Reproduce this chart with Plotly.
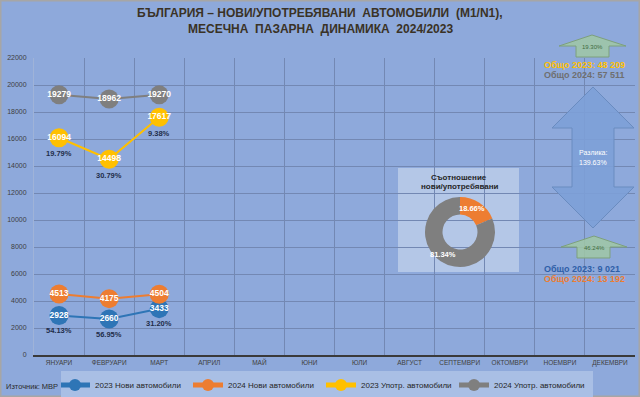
import plotly.graph_objects as go

W, H = 640, 397

months = ["ЯНУАРИ", "ФЕВРУАРИ", "МАРТ", "АПРИЛ", "МАЙ", "ЮНИ", "ЮЛИ", "АВГУСТ",
          "СЕПТЕМВРИ", "ОКТОМВРИ", "НОЕМВРИ", "ДЕКЕМВРИ"]
months_data = months[:3]
new_2023 = [2928, 2660, 3433]
new_2024 = [4513, 4175, 4504]
used_2023 = [16094, 14498, 17617]
used_2024 = [19279, 18962, 19270]
new_growth = ["54.13%", "56.95%", "31.20%"]
used_growth = ["19.79%", "30.79%", "9.38%"]
ratio_labels = ["Нови", "Употребявани"]
ratio_values = [13192, 57511]

BG = "#8EA9DB"
GRID = "#7388B3"


def px(x):
    return x / W


def py(y):
    return 1 - y / H


fig = go.Figure()

series = [
    ("2023 Нови автомобили", new_2023, "#2E75B6"),
    ("2024 Нови автомобили", new_2024, "#ED7D31"),
    ("2023 Употр. автомобили", used_2023, "#FFC000"),
    ("2024 Употр. автомобили", used_2024, "#7F7F7F"),
]
for name, vals, col in series:
    fig.add_trace(go.Scatter(
        x=months_data, y=vals, name=name, mode="lines+markers+text",
        line=dict(color=col, width=2),
        marker=dict(color=col, size=19),
        text=[str(v) for v in vals], textposition="middle center",
        textfont=dict(family="Liberation Sans", size=8.5, color="white", weight="bold"),
        cliponaxis=False,
    ))

annotations = []
for m, v, t in zip(months_data, new_2023, new_growth):
    annotations.append(dict(x=m, y=v, xref="x", yref="y", text=t, showarrow=False,
                            yshift=-15, font=dict(family="Liberation Sans", size=7.5, color="#1F2D4A", weight="bold")))
for m, v, t in zip(months_data, used_2023, used_growth):
    annotations.append(dict(x=m, y=v, xref="x", yref="y", text=t, showarrow=False,
                            yshift=-16, font=dict(family="Liberation Sans", size=7.5, color="#1F2D4A", weight="bold")))

# Donut
total = sum(ratio_values)
pct = [f"{100 * v / total:.2f}%" for v in ratio_values]
fig.add_trace(go.Pie(
    labels=ratio_labels, values=ratio_values, hole=0.5, sort=False, direction="clockwise",
    rotation=0, marker=dict(colors=["#ED7D31", "#7F7F7F"]),
    textinfo="none",
    domain=dict(x=[px(425), px(495)], y=[py(267), py(197)]),
    showlegend=False,
))


def note(x, y, text, font, xanchor="center"):
    return dict(x=px(x), y=py(y), xref="paper", yref="paper", showarrow=False,
                xanchor=xanchor, yanchor="middle", text=text, font=font)


pie_lbl_font = dict(family="Liberation Sans", size=7.5, color="white", weight="bold")
annotations += [
    note(472, 208, pct[0], pie_lbl_font),
    note(443, 254, pct[1], pie_lbl_font),
]

title_font = dict(family="Liberation Sans", size=12, color="#3A3226", weight="bold")
box_font = dict(family="Liberation Sans", size=8, color="#262626", weight="bold")
green_font = dict(family="Liberation Sans", size=6, color="#3F6B3F")
white_font = dict(family="Liberation Sans", size=7, color="white")
annotations += [
    note(320, 13, "БЪЛГАРИЯ – НОВИ/УПОТРЕБЯВАНИ  АВТОМОБИЛИ  (М1/N1),", title_font),
    note(320, 29, "МЕСЕЧНА  ПАЗАРНА  ДИНАМИКА  2024/2023", title_font),
    note(4, 386, "Източник: МВР", dict(family="Liberation Sans", size=7.5, color="#2B2B2B"), "left"),
    note(459, 177, "Съотношение", box_font),
    note(459, 186, "нови/употребявани", box_font),
    note(592, 47, "19.30%", green_font),
    note(594, 248, "46.24%", green_font),
    note(593, 152, "Разлика:", white_font),
    note(593, 162, "139.63%", white_font),
    note(542, 65, "Общо 2023: 48 209", dict(family="Liberation Sans", size=9, color="#FFC000", weight="bold"), "left"),
    note(542, 75, "Общо 2024: 57 511", dict(family="Liberation Sans", size=9, color="#6F6F6F", weight="bold"), "left"),
    note(542, 269, "Общо 2023: 9 021", dict(family="Liberation Sans", size=9, color="#2E5FA8", weight="bold"), "left"),
    note(542, 279, "Общо 2024: 13 192", dict(family="Liberation Sans", size=9, color="#ED7D31", weight="bold"), "left"),
]


def poly(points):
    d = "M " + " L ".join(f"{px(x):.5f},{py(y):.5f}" for x, y in points) + " Z"
    return d


shapes = [
    dict(type="rect", xref="paper", yref="paper", x0=px(398), x1=px(519), y0=py(272), y1=py(168),
         fillcolor="#B4C7E7", line=dict(width=0), layer="below"),
    dict(type="path", xref="paper", yref="paper",
         path=poly([(592, 35), (626, 46), (609, 46), (609, 57), (576, 57), (576, 46), (559, 46)]),
         fillcolor="rgba(160,200,165,0.85)", line=dict(color="#7DA07D", width=1)),
    dict(type="path", xref="paper", yref="paper",
         path=poly([(593, 87), (634, 128), (614, 128), (614, 187), (634, 187), (593, 228),
                    (552, 187), (572, 187), (572, 128), (552, 128)]),
         fillcolor="rgba(125,160,215,0.9)", line=dict(color="#6A8CC0", width=1)),
    dict(type="path", xref="paper", yref="paper",
         path=poly([(594, 236), (627, 247), (610, 247), (610, 258), (577, 258), (577, 247), (561, 247)]),
         fillcolor="rgba(160,200,165,0.85)", line=dict(color="#7DA07D", width=1)),
    dict(type="rect", xref="paper", yref="paper", x0=0, x1=1, y0=0, y1=1,
         line=dict(color="#A6A6A6", width=3), fillcolor="rgba(0,0,0,0)"),
]

fig.update_layout(
    width=W, height=H,
    margin=dict(l=0, r=0, t=0, b=0, autoexpand=False),
    paper_bgcolor=BG, plot_bgcolor=BG,
    font=dict(family="Liberation Sans", color="#404040"),
    xaxis=dict(domain=[px(34), px(635)], type="category", categoryorder="array",
               categoryarray=months, range=[-0.5, 11.5], tickson="boundaries",
               showgrid=True, gridcolor=GRID, gridwidth=1, ticks="",
               showline=True, linecolor="#3A3A3A", linewidth=1.5,
               tickfont=dict(size=6.5, color="#404040"), fixedrange=True, automargin=False),
    yaxis=dict(domain=[py(355), py(58)], range=[0, 22000], dtick=2000, tickformat="d",
               showgrid=True, gridcolor=GRID, gridwidth=1, zeroline=False,
               showline=True, linecolor="#9FB3D8", linewidth=1, automargin=False,
               tickfont=dict(size=7, color="#404040"), ticks="", ticklabelstandoff=5),
    legend=dict(orientation="h", x=px(61), y=py(385), xanchor="left", yanchor="middle",
                bgcolor="#A9BFE5", font=dict(size=8, color="#262626"),
                itemsizing="constant", itemwidth=30, tracegroupgap=0,
                entrywidth=94, indentation=-6),
    annotations=annotations,
    shapes=shapes,
    showlegend=True,
)

fig.write_html("out.html", config={"displayModeBar": False},
               post_script="document.body.style.margin='0';document.body.style.overflow='hidden';")
